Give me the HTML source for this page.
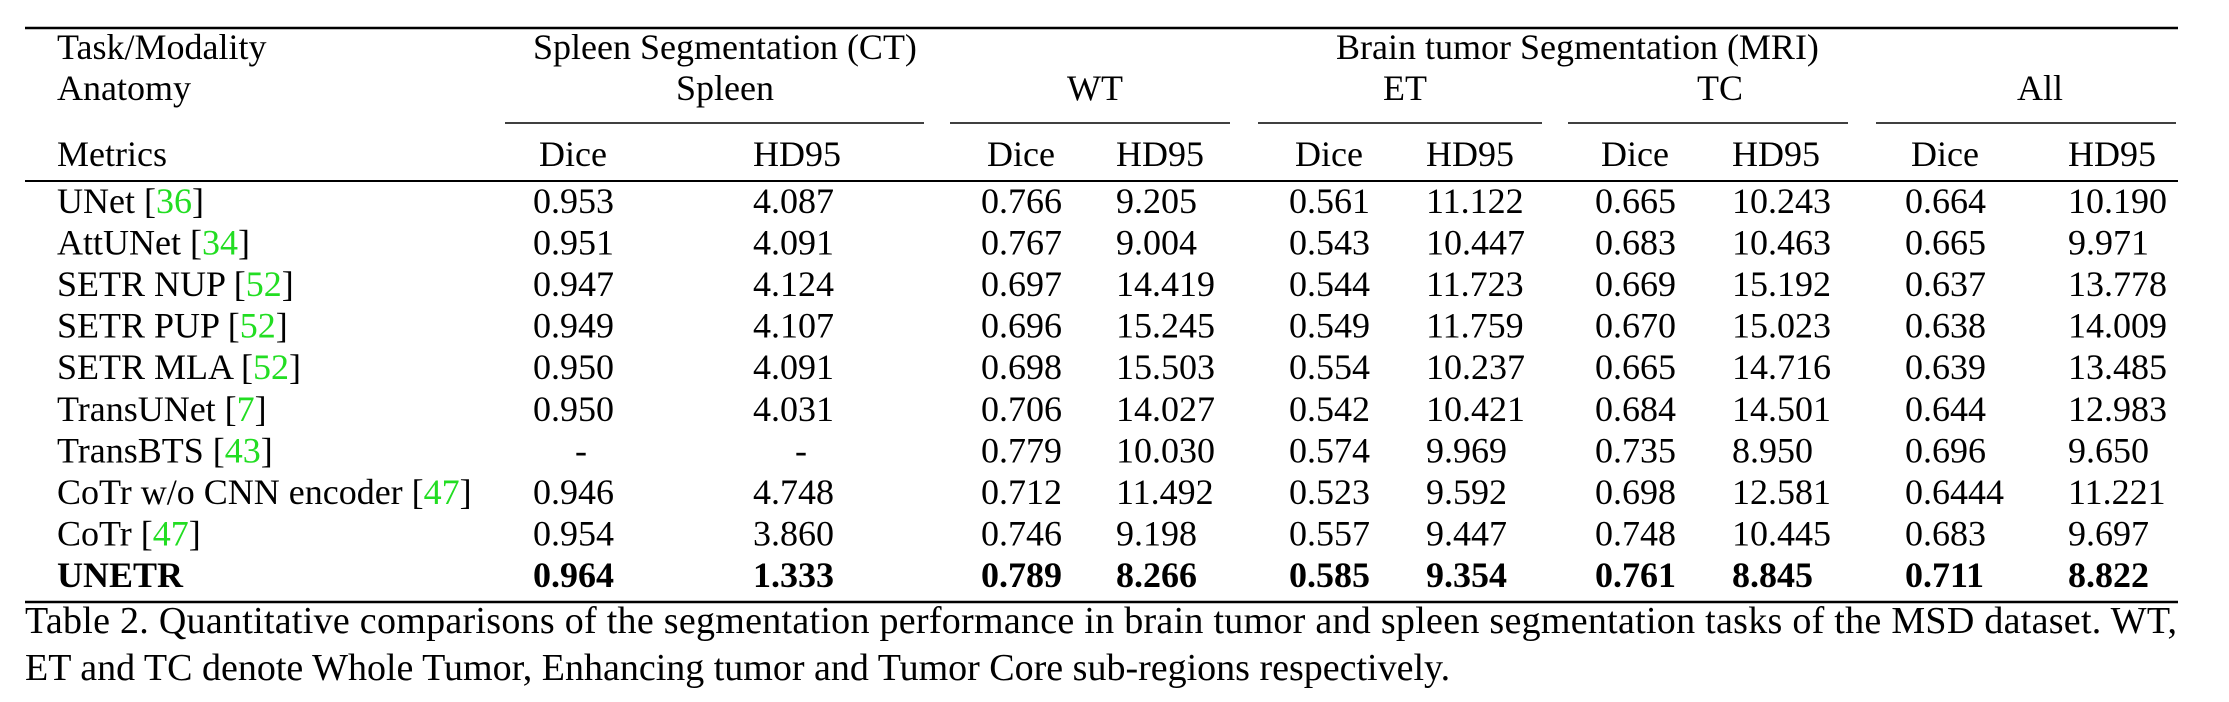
<!DOCTYPE html>
<html><head><meta charset="utf-8"><style>
html,body{margin:0;padding:0;background:#fff;}
svg{display:block;}
text{font-family:"Liberation Serif","DejaVu Serif",serif;font-size:36px;fill:#000;}
.ref{fill:#22dd22;}
.cap{font-size:38px;}
</style></head><body>
<svg id="tbl" width="2229" height="702" viewBox="0 0 2229 702" xmlns="http://www.w3.org/2000/svg">
<line x1="25" y1="28" x2="2178" y2="28" stroke="#000" stroke-width="2.5"/>
<text x="57" y="59">Task/Modality</text>
<text x="57" y="100">Anatomy</text>
<text x="57" y="166">Metrics</text>
<text x="533" y="59">Spleen Segmentation (CT)</text>
<text x="1336" y="59">Brain tumor Segmentation (MRI)</text>
<text x="725" y="100" text-anchor="middle">Spleen</text>
<text x="1095" y="100" text-anchor="middle">WT</text>
<text x="1405" y="100" text-anchor="middle">ET</text>
<text x="1720" y="100" text-anchor="middle">TC</text>
<text x="2040" y="100" text-anchor="middle">All</text>
<line x1="505" y1="123" x2="924" y2="123" stroke="#000" stroke-width="1.5"/>
<line x1="950" y1="123" x2="1230" y2="123" stroke="#000" stroke-width="1.5"/>
<line x1="1258" y1="123" x2="1542" y2="123" stroke="#000" stroke-width="1.5"/>
<line x1="1568" y1="123" x2="1848" y2="123" stroke="#000" stroke-width="1.5"/>
<line x1="1876" y1="123" x2="2176" y2="123" stroke="#000" stroke-width="1.5"/>
<line x1="25" y1="181" x2="2178" y2="181" stroke="#000" stroke-width="2"/>
<line x1="25" y1="602" x2="2178" y2="602" stroke="#000" stroke-width="2.5"/>
<text class="cap" x="25" y="633" textLength="2152" lengthAdjust="spacing">Table 2. Quantitative comparisons of the segmentation performance in brain tumor and spleen segmentation tasks of the MSD dataset. WT,</text>
<text class="cap" x="25" y="680">ET and TC denote Whole Tumor, Enhancing tumor and Tumor Core sub-regions respectively.</text>
</svg>
<script>
const methods = ["UNet","AttUNet","SETR NUP","SETR PUP","SETR MLA","TransUNet","TransBTS","CoTr w/o CNN encoder","CoTr","UNETR"];
const refs = ["36","34","52","52","52","7","43","47","47",""];
const metricHeaders = ["Dice","HD95","Dice","HD95","Dice","HD95","Dice","HD95","Dice","HD95"];
const values = [
["0.953","4.087","0.766","9.205","0.561","11.122","0.665","10.243","0.664","10.190"],
["0.951","4.091","0.767","9.004","0.543","10.447","0.683","10.463","0.665","9.971"],
["0.947","4.124","0.697","14.419","0.544","11.723","0.669","15.192","0.637","13.778"],
["0.949","4.107","0.696","15.245","0.549","11.759","0.670","15.023","0.638","14.009"],
["0.950","4.091","0.698","15.503","0.554","10.237","0.665","14.716","0.639","13.485"],
["0.950","4.031","0.706","14.027","0.542","10.421","0.684","14.501","0.644","12.983"],
["-","-","0.779","10.030","0.574","9.969","0.735","8.950","0.696","9.650"],
["0.946","4.748","0.712","11.492","0.523","9.592","0.698","12.581","0.6444","11.221"],
["0.954","3.860","0.746","9.198","0.557","9.447","0.748","10.445","0.683","9.697"],
["0.964","1.333","0.789","8.266","0.585","9.354","0.761","8.845","0.711","8.822"]
];
const NS="http://www.w3.org/2000/svg";
const svg=document.getElementById('tbl');
const colX=[533,753,981,1116,1289,1426,1595,1732,1905,2068];
const dashX=[575,795];
function t(x,y,s){const e=document.createElementNS(NS,'text');e.setAttribute('x',x);e.setAttribute('y',y);e.textContent=s;svg.appendChild(e);return e;}
metricHeaders.forEach((h,i)=>{const e=t(colX[i]+(i%2?0:6),166,h);

});
methods.forEach((m,r)=>{
  const y=213+r*41.56;const bold=r===methods.length-1;
  const lab=document.createElementNS(NS,'text');lab.setAttribute('x',57);lab.setAttribute('y',y);
  
  
  if(bold)lab.setAttribute('font-weight','bold');
  lab.appendChild(document.createTextNode(m+(refs[r]?' [':'')));
  if(refs[r]){const ts=document.createElementNS(NS,'tspan');ts.setAttribute('class','ref');ts.textContent=refs[r];lab.appendChild(ts);lab.appendChild(document.createTextNode(']'));}
  svg.appendChild(lab);
  values[r].forEach((v,c)=>{
    const x=(v==='-')?dashX[c]:colX[c];
    const e=t(x,y,v);
    
    
    if(bold)e.setAttribute('font-weight','bold');
  });
});
</script>
</body></html>
